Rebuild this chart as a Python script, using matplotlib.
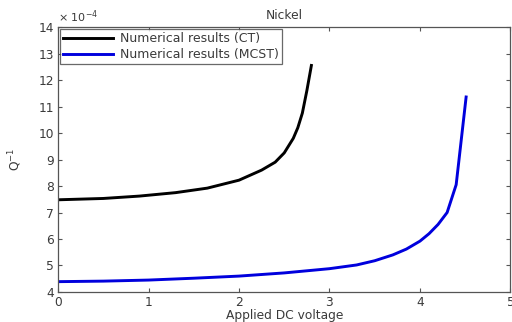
import matplotlib
matplotlib.use("Agg")
import matplotlib.pyplot as plt

plt.rcParams['font.family'] = ['DejaVu Sans']

# Internal friction Q^-1 (in units of 1e-4) versus applied DC voltage
ct_voltage = [0.0, 0.5, 0.9, 1.3, 1.65, 2.0, 2.25, 2.4, 2.5, 2.6, 2.65, 2.7, 2.75, 2.8]
ct_q = [7.48, 7.53, 7.62, 7.75, 7.92, 8.22, 8.6, 8.9, 9.25, 9.8, 10.2, 10.75, 11.6, 12.55]

mcst_voltage = [0.0, 0.5, 1.0, 1.5, 2.0, 2.5, 3.0, 3.3, 3.5, 3.7, 3.85, 4.0, 4.1, 4.2, 4.3, 4.4, 4.51]
mcst_q = [4.39, 4.41, 4.45, 4.52, 4.6, 4.72, 4.88, 5.02, 5.18, 5.4, 5.62, 5.92, 6.2, 6.55, 7.0, 8.05, 11.36]

x_ticks = [0, 1, 2, 3, 4, 5]
y_ticks = [4, 5, 6, 7, 8, 9, 10, 11, 12, 13, 14]

label_color = '#3a3a3a'
spine_color = '#555555'
fs = 8.8

fig = plt.figure(figsize=(5.12, 3.22), dpi=100)
ax = fig.add_axes([0.1133, 0.0932, 0.8837, 0.8228])

ax.plot(ct_voltage, ct_q, color='black', lw=2.1, label='Numerical results (CT)')
ax.plot(mcst_voltage, mcst_q, color='#0000dd', lw=2.1, label='Numerical results (MCST)')

ax.set_xlim(0, 5)
ax.set_ylim(4, 14)
ax.set_xticks(x_ticks)
ax.set_yticks(y_ticks)
ax.tick_params(direction='in', length=3, width=0.8, top=True, right=True,
               labelsize=fs, colors=spine_color, labelcolor=label_color, pad=3)
for s in ax.spines.values():
    s.set_color(spine_color)
    s.set_linewidth(0.9)

ax.set_title('Nickel', fontsize=fs, color=label_color, pad=6)
ax.set_xlabel('Applied DC voltage', fontsize=fs, color=label_color, labelpad=0)
ax.set_ylabel('Q$^{-1}$', fontsize=fs, color=label_color, labelpad=10)
ax.text(0.0, 1.008, r'$\times$ 10$^{-4}$', transform=ax.transAxes, fontsize=fs - 0.8,
        color=label_color, ha='left', va='bottom')

leg = ax.legend(loc='upper left', fontsize=fs + 0.2, frameon=True, fancybox=False,
                borderaxespad=0.15, handlelength=4.0, handletextpad=0.5,
                borderpad=0.28, labelspacing=0.2)
leg.get_frame().set_edgecolor('#444444')
leg.get_frame().set_linewidth(0.9)
for t in leg.get_texts():
    t.set_color(label_color)

fig.savefig('out.png', dpi=100)
